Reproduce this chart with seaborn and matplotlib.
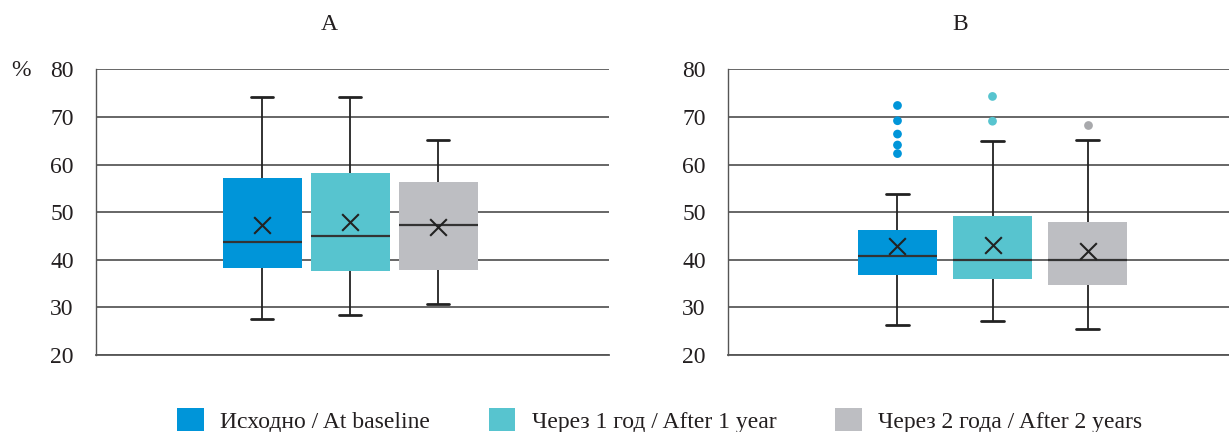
import numpy as np
import pandas as pd
import matplotlib
matplotlib.use("Agg")
import matplotlib.pyplot as plt
from matplotlib.patches import Patch
import seaborn as sns

# ---------------- data ----------------
series = ["Исходно / At baseline", "Через 1 год / After 1 year", "Через 2 года / After 2 years"]
colors = ["#0095D9", "#57C4CF", "#BDBEC2"]
outlier_colors = ["#0095D9", "#57C4CF", "#A8A9AC"]
panel_titles = ["A", "B"]
yticks = [20, 30, 40, 50, 60, 70, 80]

# Panel A five-number summaries
a_low = [27.5, 28.4, 30.7]
a_q1 = [38.3, 37.7, 37.9]
a_med = [43.8, 44.9, 47.2]
a_q3 = [57.2, 58.2, 56.3]
a_high = [74.1, 74.1, 65.1]
a_mean = [47.3, 48.0, 46.9]
a_out = [[], [], []]

# Panel B five-number summaries
b_low = [26.4, 27.1, 25.5]
b_q1 = [36.9, 36.0, 34.8]
b_med = [40.8, 40.0, 40.0]
b_q3 = [46.2, 49.2, 47.9]
b_high = [53.8, 65.0, 65.1]
b_mean = [42.8, 43.1, 41.9]
b_out = [[72.4, 69.2, 66.4, 64.1, 62.3], [74.3, 69.1], [68.2]]

sns.set_style("white")
plt.rcParams["font.family"] = ["Liberation Serif", "DejaVu Serif"]

FS = 17
fig = plt.figure(figsize=(12.29, 4.32), dpi=100)
W, H = 1229, 432
y_top, y_bot = 69.3, 355.0

panels = [
    dict(low=a_low, q1=a_q1, med=a_med, q3=a_q3, high=a_high, mean=a_mean, out=a_out,
         left=96, right=609, xlim=(-1.89, 3.94), width=0.9),
    dict(low=b_low, q1=b_q1, med=b_med, q3=b_q3, high=b_high, mean=b_mean, out=b_out,
         left=728, right=1257, xlim=(-1.784, 3.784), width=0.83),
]

pal = dict(zip(series, colors))
opal = dict(zip(series, outlier_colors))

for p in panels:
    ax = fig.add_axes([p["left"] / W, 1 - y_bot / H, (p["right"] - p["left"]) / W, (y_bot - y_top) / H])
    rows = []
    for i, s in enumerate(series):
        for v in (p["low"][i], p["q1"][i], p["med"][i], p["q3"][i], p["high"][i]):
            rows.append((s, v))
    df = pd.DataFrame(rows, columns=["grp", "val"])
    sns.boxplot(data=df, x="grp", y="val", hue="grp", order=series, hue_order=series,
                palette=pal, saturation=1, legend=False, width=p["width"],
                whis=(0, 100), showfliers=False, ax=ax, zorder=3,
                boxprops=dict(linewidth=0),
                whiskerprops=dict(color="#222222", linewidth=1.3),
                capprops=dict(color="#222222", linewidth=2.0),
                medianprops=dict(color="#333333", linewidth=1.6),
                capwidths=0.25)
    # means
    mdf = pd.DataFrame({"grp": series, "val": p["mean"]})
    sns.stripplot(data=mdf, x="grp", y="val", order=series, jitter=False, marker="x",
                  color="#222222", size=12, linewidth=1.5, ax=ax, zorder=5)
    # outliers
    orows = [(s, v) for s, vals in zip(series, p["out"]) for v in vals]
    if orows:
        odf = pd.DataFrame(orows, columns=["grp", "val"])
        sns.stripplot(data=odf, x="grp", y="val", hue="grp", order=series, hue_order=series,
                      palette=opal, jitter=False, size=6.3, linewidth=0, legend=False,
                      ax=ax, zorder=5)
    ax.set_xlim(*p["xlim"])
    ax.set_ylim(20, 80)
    ax.set_yticks(yticks)
    ax.set_xticks([])
    ax.set_xlabel("")
    ax.set_ylabel("")
    ax.tick_params(axis="y", length=0, pad=16, labelsize=FS, labelcolor="#231f20")
    ax.yaxis.grid(True, color="#4d4d4d", linewidth=1.2, zorder=0)
    ax.set_axisbelow(True)
    for side in ["top", "right"]:
        ax.spines[side].set_visible(False)
    ax.spines["left"].set_color("#555555")
    ax.spines["left"].set_linewidth(1.0)
    ax.spines["bottom"].set_color("#555555")
    ax.spines["bottom"].set_linewidth(1.3)

fig.text(329 / W, 1 - 25 / H, panel_titles[0], ha="center", va="center", fontsize=FS, color="#231f20")
fig.text(960 / W, 1 - 25 / H, panel_titles[1], ha="center", va="center", fontsize=FS, color="#231f20")
fig.text(21 / W, 1 - 70 / H, "%", ha="center", va="center", fontsize=FS, color="#231f20")

handles = [Patch(facecolor=c, edgecolor="none") for c in colors]
fig.legend(handles, series, loc="center", bbox_to_anchor=(0.5366, 1 - 420.5 / H), ncol=3,
           frameon=False, fontsize=FS, handlelength=1.14, handleheight=1.14,
           handletextpad=0.68, columnspacing=2.5, borderpad=0, labelcolor="#231f20")

fig.savefig("out.png", dpi=100)
